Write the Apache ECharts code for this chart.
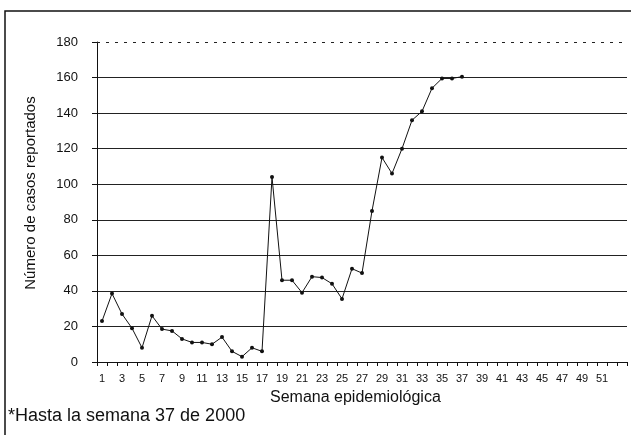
<!DOCTYPE html>
<html>
<head>
<meta charset="utf-8">
<script src="https://cdn.jsdelivr.net/npm/echarts@6/dist/echarts.min.js"></script>
<style>
html, body { margin: 0; padding: 0; background: #fff; }
#chart { width: 631px; height: 435px; }
</style>
</head>
<body>
<div id="chart"></div>
<script>
// semanas 1..53
var weeks = [];
for (var i = 1; i <= 53; i++) { weeks.push(String(i)); }

// casos reportados hasta la semana 37
var cases = [23, 38.5, 27, 19, 8, 26, 18.5, 17.5, 13, 11, 11, 10, 14, 6, 3, 8, 6,
    104, 46, 46, 39, 48, 47.5, 44, 35.5, 52.5, 50, 85, 115, 106, 120, 136, 141,
    154, 159.5, 159.5, 160.5];

var yTicks = [0, 20, 40, 60, 80, 100, 120, 140, 160, 180];

var font = 'Liberation Sans, Arial, sans-serif';

var option = {
    animation: false,
    textStyle: {fontFamily: font},
    grid: {
        left: 97,
        right: 4,
        top: 42,
        bottom: 73
    },
    xAxis: {
        type: 'category',
        data: weeks,
        boundaryGap: true,
        axisLine: {lineStyle: {color: '#111', width: 1}},
        axisTick: {show: true, interval: 0, length: 4, lineStyle: {color: '#111'}},
        axisLabel: {
            color: '#111',
            fontSize: 11,
            margin: 11,
            interval: function (index) { return index % 2 === 0 && index < 52; }
        }
    },
    yAxis: {
        type: 'value',
        min: yTicks[0],
        max: yTicks[yTicks.length - 1],
        interval: 20,
        axisLine: {show: true, lineStyle: {color: '#111', width: 1}},
        axisTick: {show: true, length: 5, lineStyle: {color: '#111'}},
        axisLabel: {color: '#111', fontSize: 13, margin: 19},
        splitLine: {showMaxLine: false, lineStyle: {color: '#222', width: 1}}
    },
    series: [
        {
            name: 'casos',
            type: 'line',
            data: cases,
            symbol: 'circle',
            symbolSize: 4,
            itemStyle: {color: '#111'},
            lineStyle: {color: '#111', width: 1},
            markLine: {
                silent: true,
                symbol: 'none',
                label: {show: false},
                lineStyle: {color: '#222', type: [3, 6], width: 1},
                data: [{yAxis: 180}]
            }
        }
    ],
    graphic: [
        {
            type: 'polyline',
            shape: {points: [[5, 435], [5, 11], [631, 11]]},
            style: {stroke: '#111', lineWidth: 1.5, fill: null}
        },
        {
            type: 'text',
            x: 31,
            y: 193,
            rotation: Math.PI / 2,
            style: {
                text: 'Número de casos reportados',
                fill: '#111',
                fontSize: 15,
                fontFamily: font,
                align: 'center',
                verticalAlign: 'middle'
            }
        },
        {
            type: 'text',
            left: 270,
            top: 390,
            style: {
                text: 'Semana epidemiológica',
                fill: '#111',
                fontSize: 16,
                fontFamily: font
            }
        },
        {
            type: 'text',
            left: 8,
            top: 407,
            style: {
                text: '*Hasta la semana 37 de 2000',
                fill: '#111',
                fontSize: 18,
                fontFamily: font
            }
        }
    ]
};

var chart = echarts.init(document.getElementById('chart'));
chart.setOption(option);
</script>
</body>
</html>
